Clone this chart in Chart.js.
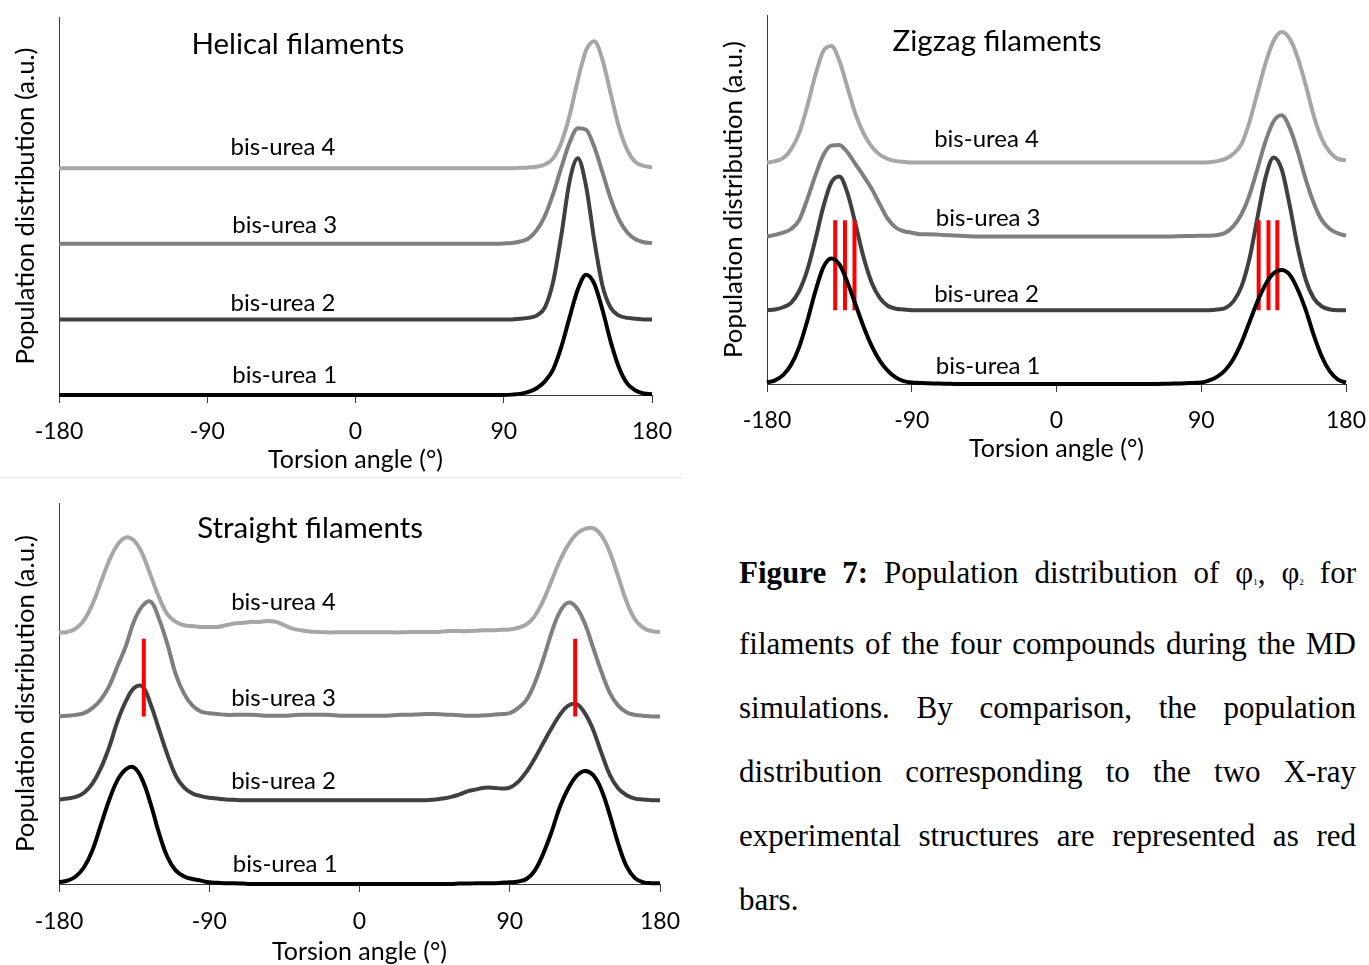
<!DOCTYPE html>
<html>
<head>
<meta charset="utf-8">
<script src="https://cdn.jsdelivr.net/npm/chart.js@4.4.1/dist/chart.umd.min.js"></script>
<style>
html,body{margin:0;padding:0;background:#fff;overflow:hidden;width:1369px;height:965px;}
canvas{position:absolute;}
#sep{position:absolute;left:0;top:477px;width:683px;height:1px;background:#e4e4e4;}
.cap{position:absolute;left:739px;width:617px;font-family:"Liberation Serif","Times New Roman",serif;font-size:31px;color:#000;text-align:justify;text-align-last:justify;line-height:36px;}
.cap.last{text-align:left;text-align-last:left;}
.cap sub{font-size:9px;vertical-align:-2px;}
</style>
</head>
<body>
<canvas id="c1" width="683" height="478" style="left:0;top:0"></canvas>
<canvas id="c2" width="661" height="467" style="left:708px;top:0"></canvas>
<canvas id="c3" width="690" height="484" style="left:0;top:483px"></canvas>
<div id="sep"></div>
<div class="cap" style="top:555px"><b>Figure 7:</b> Population distribution of φ<sub>1</sub>, φ<sub>2</sub> for</div>
<div class="cap" style="top:626px">filaments of the four compounds during the MD</div>
<div class="cap" style="top:690px">simulations. By comparison, the population</div>
<div class="cap" style="top:754px">distribution corresponding to the two X-ray</div>
<div class="cap" style="top:818px">experimental structures are represented as red</div>
<div class="cap last" style="top:882px">bars.</div>
<script>
// ---------------- DATA ----------------
const seriesNames = ['bis-urea 1','bis-urea 2','bis-urea 3','bis-urea 4'];
const xTicks = [-180,-90,0,90,180];
const seriesOffsets = [0,1,2,3];

// Helical filaments
const helicalAngles = [-180,-120,-60,0,60,80,90,95,100,105,110,115,120,125,130,135,140,145,150,155,160,165,170,175,180];
const helical1 = [0,0,0,0,0,0,0,0.005,0.015,0.04,0.09,0.18,0.34,0.64,1.03,1.40,1.59,1.47,1.12,0.70,0.36,0.15,0.06,0.02,0.01];
const helical2 = [0,0,0,0,0,0,0,0,0.01,0.02,0.05,0.16,0.50,1.12,1.83,2.13,1.76,1.04,0.44,0.15,0.05,0.02,0.01,0,0];
const helical3 = [0,0,0,0,0,0,0.005,0.01,0.03,0.07,0.18,0.37,0.66,1.01,1.34,1.53,1.51,1.28,0.94,0.59,0.32,0.15,0.06,0.02,0.01];
const helical4 = [0,0,0,0,0,0,0,0,0.005,0.01,0.02,0.05,0.13,0.34,0.70,1.17,1.56,1.68,1.43,0.98,0.54,0.24,0.08,0.03,0.01];

// Zigzag filaments
const zigzagAngles = [-180,-175,-170,-165,-160,-155,-150,-145,-140,-135,-130,-125,-120,-115,-110,-105,-100,-95,-90,-85,
  -80,-70,-60,-50,-40,-30,-20,-10,0,10,20,30,40,50,60,70,80,
  85,90,95,100,105,110,115,120,125,130,135,140,145,150,155,160,165,170,175,180];
const zigzag1 = [0.02,0.05,0.12,0.26,0.50,0.85,1.25,1.58,1.70,1.62,1.38,1.08,0.78,0.52,0.32,0.18,0.09,0.04,0.02,0.015,
  0.01,0.005,0,0,0,0,0,0,0,0,0,0,0,0,0,0.005,0.01,
  0.015,0.02,0.05,0.10,0.19,0.34,0.56,0.84,1.12,1.35,1.50,1.545,1.48,1.28,1.00,0.66,0.37,0.17,0.06,0.02];
const zigzag2 = [0,0.01,0.04,0.10,0.26,0.54,0.95,1.40,1.73,1.81,1.59,1.17,0.72,0.38,0.17,0.06,0.02,0.01,0,0,
  0,0,0,0,0,0,0,0,0,0,0,0,0,0,0,0,0,
  0,0,0,0.01,0.03,0.12,0.32,0.70,1.26,1.80,2.07,1.91,1.42,0.85,0.41,0.16,0.05,0.01,0,0];
const zigzag3 = [0,0.02,0.05,0.10,0.22,0.50,0.82,1.10,1.23,1.24,1.14,0.98,0.82,0.65,0.44,0.24,0.12,0.07,0.05,0.03,
  0.03,0.02,0.01,0,0,0,0,0,0,0,0,0,0,0,0,0,0.005,
  0.005,0.01,0.01,0.02,0.05,0.14,0.30,0.56,0.92,1.29,1.56,1.64,1.47,1.15,0.77,0.45,0.22,0.10,0.04,0.01];
const zigzag4 = [0,0.02,0.06,0.18,0.40,0.76,1.18,1.51,1.58,1.38,1.02,0.66,0.40,0.22,0.11,0.05,0.02,0.01,0,0,
  0,0,0,0,0,0,0,0,0,0,0,0,0,0,0,0,0,
  0,0,0.005,0.02,0.05,0.12,0.25,0.55,0.95,1.35,1.65,1.77,1.68,1.42,1.05,0.63,0.32,0.14,0.05,0.03];
const zigzagBarAngles = [-137.6,-131.5,-125.6,125.7,131.8,137.3];
const zigzagBarLow = 1.0;
const zigzagBarHigh = 2.22;

// Straight filaments (every 5 degrees)
const straightAngles = [-180,-175,-170,-165,-160,-155,-150,-145,-140,-135,-130,-125,-120,-115,-110,-105,-100,-95,-90,-85,
  -80,-75,-70,-65,-60,-55,-50,-45,-40,-35,-30,-25,-20,-15,-10,-5,0,5,10,15,20,25,30,35,40,45,50,55,60,65,70,75,80,
  85,90,95,100,105,110,115,120,125,130,135,140,145,150,155,160,165,170,175,180];
const straight1 = [0.02,0.04,0.09,0.20,0.40,0.70,1.00,1.24,1.37,1.39,1.24,0.95,0.60,0.32,0.16,0.09,0.06,0.04,0.02,0.015,
  0.01,0.01,0.005,0,0,0,0,0,0,0,0,0,0,0,0,0,0,0,0,0,0,0,0,0,0,0,0,0,0.005,0.005,0.01,0.01,0.01,
  0.015,0.02,0.03,0.06,0.16,0.36,0.62,0.92,1.14,1.29,1.35,1.30,1.12,0.82,0.48,0.21,0.07,0.02,0.01,0.01];
const straight2 = [0.01,0.02,0.04,0.09,0.20,0.38,0.63,0.94,1.18,1.34,1.36,1.14,0.84,0.54,0.29,0.15,0.08,0.05,0.03,0.02,
  0.01,0.005,0,0,0,0,0,0,0,0,0,0,0,0,0,0,0,0,0,0,0,0,0,0,0,0.01,0.02,0.04,0.07,0.11,0.13,0.15,0.15,
  0.14,0.15,0.22,0.34,0.50,0.68,0.86,1.02,1.13,1.15,1.04,0.84,0.56,0.30,0.14,0.06,0.02,0.01,0,0];
const straight3 = [0,0.01,0.02,0.04,0.10,0.20,0.36,0.60,0.84,1.14,1.32,1.37,1.16,0.86,0.50,0.27,0.13,0.06,0.04,0.03,
  0.02,0.02,0.02,0.02,0.015,0.01,0.01,0.01,0.015,0.02,0.02,0.02,0.02,0.015,0.01,0.01,0.01,0.01,0.01,0.01,0.015,0.02,0.02,0.025,0.03,0.03,0.025,0.02,0.015,0.01,0.01,0.015,0.02,
  0.03,0.04,0.10,0.20,0.40,0.68,1.00,1.25,1.36,1.30,1.11,0.82,0.53,0.28,0.13,0.05,0.02,0.01,0,0];
const straight4 = [0,0.01,0.05,0.15,0.34,0.60,0.86,1.05,1.14,1.10,0.94,0.68,0.42,0.22,0.13,0.09,0.08,0.07,0.07,0.07,
  0.09,0.11,0.12,0.13,0.13,0.14,0.13,0.09,0.05,0.03,0.015,0.01,0.005,0.005,0.005,0.005,0.005,0.005,0.005,0.005,0.005,0.005,0.01,0.01,0.01,0.01,0.015,0.02,0.02,0.02,0.025,0.03,0.03,
  0.035,0.04,0.06,0.10,0.20,0.38,0.62,0.86,1.05,1.18,1.24,1.25,1.16,0.96,0.67,0.37,0.16,0.06,0.02,0.01];
const straightBarAngles = [-129.2,129.2];
const straightBarLow = 2.0;
const straightBarHigh = 2.93;

// ---------------- STYLE / LAYOUT ----------------
const FONT = 'Lato, "Open Sans", sans-serif';
const seriesColors = ['#000000','#404040','#7f7f7f','#a6a6a6'];
const seriesOrder = [0,2,3,4];
const axisColor = '#3a3a3a';

const textPlugin = {
  id: 'texts',
  afterDatasetsDraw(chart, args, opts) {
    const {ctx, scales} = chart;
    ctx.save();
    ctx.fillStyle = '#000';
    ctx.textAlign = 'center';
    ctx.textBaseline = 'middle';
    (opts.items || []).forEach(it => {
      ctx.font = it.size + 'px ' + FONT;
      ctx.fillText(it.text, scales.x.getPixelForValue(it.x), scales.y.getPixelForValue(it.y));
    });
    ctx.restore();
  }
};

function curveDatasets(angles, seriesList, smooth) {
  return seriesList.map((vals, i) => ({
    label: seriesNames[i],
    data: angles.map((a, k) => ({x: a, y: vals[k] + seriesOffsets[i]})),
    borderColor: seriesColors[i],
    borderWidth: 4,
    pointRadius: 0,
    fill: false,
    cubicInterpolationMode: smooth ? 'default' : 'monotone',
    tension: smooth ? 0.4 : 0,
    order: seriesOrder[i],
    clip: 6
  }));
}

function barDataset(barAngles, lo, hi) {
  const pts = [];
  barAngles.forEach(a => { pts.push({x: a, y: lo}); pts.push({x: a, y: hi}); pts.push({x: a, y: null}); });
  return {
    label: 'X-ray', data: pts, borderColor: '#ff0000', borderWidth: 4,
    pointRadius: 0, spanGaps: false, tension: 0, order: 1, clip: 6, borderCapStyle: 'butt'
  };
}

function makeChart(id, datasets, L) {
  new Chart(document.getElementById(id), {
    type: 'line',
    data: {datasets},
    plugins: [textPlugin],
    options: {
      responsive: false, animation: false, devicePixelRatio: 1,
      layout: {padding: {top: L.padTop, right: L.padRight, left: 0, bottom: 0}},
      plugins: {legend: {display: false}, tooltip: {enabled: false}, texts: {items: L.items}},
      scales: {
        x: {
          type: 'linear', min: -180, max: 180,
          afterFit(s) { s.height = L.xHeight; s.paddingLeft = 0; s.paddingRight = 0; },
          afterBuildTicks(s) { s.ticks = xTicks.map(v => ({value: v})); },
          ticks: {color: '#000', font: {family: FONT, size: 23}, padding: L.tickPad, maxRotation: 0},
          grid: {drawOnChartArea: false, drawTicks: true, tickLength: 8, color: axisColor, lineWidth: 1},
          border: {display: true, color: axisColor, width: 1},
          title: {display: true, text: 'Torsion angle (°)', color: '#000', font: {family: FONT, size: 25}, padding: {top: 0, bottom: L.titlePad}}
        },
        y: {
          min: 0, max: L.yMax,
          afterFit(s) { s.width = 59; s.paddingTop = 0; s.paddingBottom = 0; },
          ticks: {display: false},
          grid: {display: false},
          border: {display: true, color: axisColor, width: 1},
          title: {display: true, text: 'Population distribution (a.u.)', color: '#000', font: {family: FONT, size: 25.7}, padding: {top: 10, bottom: 0}}
        }
      }
    }
  });
}

makeChart('c1', curveDatasets(helicalAngles, [helical1, helical2, helical3, helical4], false), {
  padTop: 17, padRight: 31, xHeight: 83, tickPad: 15, titlePad: 3, yMax: 5,
  items: [
    {text: 'Helical filaments', x: -35, y: 4.63, size: 29.5},
    {text: 'bis-urea 4', x: -44, y: 3.28, size: 24},
    {text: 'bis-urea 3', x: -43, y: 2.25, size: 24},
    {text: 'bis-urea 2', x: -44, y: 1.22, size: 24},
    {text: 'bis-urea 1', x: -43, y: 0.26, size: 24}
  ]
});

makeChart('c2', curveDatasets(zigzagAngles, [zigzag1, zigzag2, zigzag3, zigzag4], false)
    .concat([barDataset(zigzagBarAngles, zigzagBarLow, zigzagBarHigh)]), {
  padTop: 15, padRight: 23, xHeight: 83, tickPad: 15, titlePad: 3, yMax: 5,
  items: [
    {text: 'Zigzag filaments', x: -37, y: 4.64, size: 29.5},
    {text: 'bis-urea 4', x: -43.5, y: 3.31, size: 24},
    {text: 'bis-urea 3', x: -42.5, y: 2.25, size: 24},
    {text: 'bis-urea 2', x: -43.5, y: 1.21, size: 24},
    {text: 'bis-urea 1', x: -42.5, y: 0.24, size: 24}
  ]
});

makeChart('c3', curveDatasets(straightAngles, [straight1, straight2, straight3, straight4], true)
    .concat([barDataset(straightBarAngles, straightBarLow, straightBarHigh)]), {
  padTop: 20, padRight: 30, xHeight: 83, tickPad: 16, titlePad: 0, yMax: 4.55,
  items: [
    {text: 'Straight filaments', x: -29.6, y: 4.25, size: 29.5},
    {text: 'bis-urea 4', x: -45.5, y: 3.37, size: 24},
    {text: 'bis-urea 3', x: -45.5, y: 2.22, size: 24},
    {text: 'bis-urea 2', x: -45.5, y: 1.23, size: 24},
    {text: 'bis-urea 1', x: -44.5, y: 0.24, size: 24}
  ]
});
</script>
</body>
</html>
